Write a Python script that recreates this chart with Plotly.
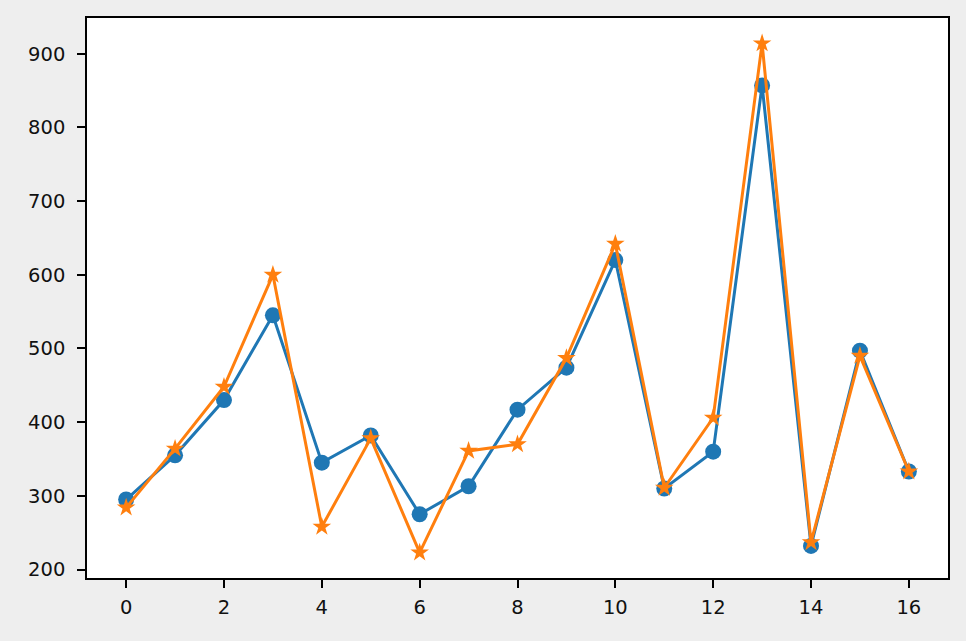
import plotly.graph_objects as go

x_vals = list(range(17))
series_a = [295, 355, 430, 545, 345, 382, 275, 313, 417, 474, 620, 310, 360, 857, 232, 497, 333]
series_b = [284, 364, 448, 600, 258, 378, 223, 361, 370, 487, 642, 311, 406, 914, 237, 490, 333]
x_ticks = [0, 2, 4, 6, 8, 10, 12, 14, 16]
y_ticks = [200, 300, 400, 500, 600, 700, 800, 900]

fig = go.Figure()
fig.add_trace(go.Scatter(
    x=x_vals, y=series_a, mode="lines+markers",
    line=dict(color="#1f77b4", width=3),
    marker=dict(symbol="circle", size=16, color="#1f77b4"),
    showlegend=False,
))
fig.add_trace(go.Scatter(
    x=x_vals, y=series_b, mode="lines+markers",
    line=dict(color="#ff7f0e", width=3),
    marker=dict(symbol="star", size=14, color="#ff7f0e"),
    showlegend=False,
))

axis_common = dict(
    showgrid=False, zeroline=False, showline=True, linecolor="black", linewidth=1.5,
    mirror=True, ticks="outside", ticklen=8, tickwidth=1.5, tickcolor="black",
    tickfont=dict(family="DejaVu Sans", size=19.5, color="#111111"),
)
fig.update_xaxes(range=[-0.8, 16.8], tickvals=x_ticks, ticklabelstandoff=3, **axis_common)
fig.update_yaxes(range=[188.5, 948.5], tickvals=y_ticks, ticklabelstandoff=8, **axis_common)

fig.update_layout(
    width=966, height=641,
    margin=dict(l=87, r=18, t=18, b=63),
    paper_bgcolor="#eeeeee", plot_bgcolor="white",
)
fig.write_html(
    "out.html",
    config={"displayModeBar": False},
    post_script="document.body.style.margin='0';document.body.style.overflow='hidden';",
)
